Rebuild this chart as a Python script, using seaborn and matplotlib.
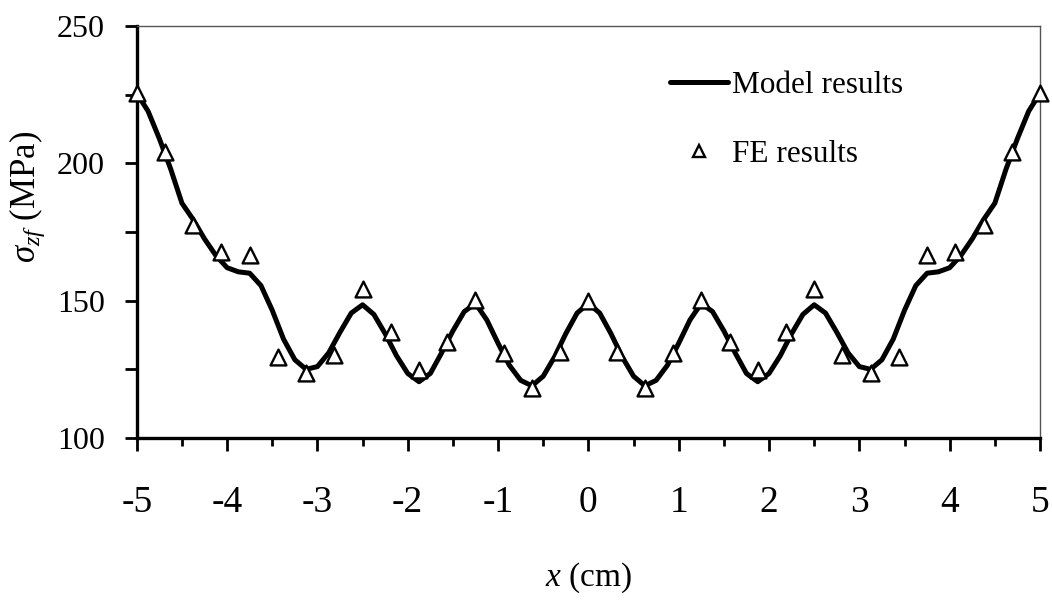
import numpy as np
import pandas as pd
import matplotlib
matplotlib.use("Agg")
import matplotlib.pyplot as plt
from matplotlib.lines import Line2D
from matplotlib.ticker import MultipleLocator
import seaborn as sns

# ---- data ----
# Model results: left half from x=-5 to 0 at 0.125 cm steps (curve is symmetric)
model_x_half = [-5.0, -4.875, -4.75, -4.625, -4.5, -4.375, -4.25, -4.125, -4.0,
                -3.875, -3.75, -3.625, -3.5, -3.375, -3.25, -3.125, -3.0, -2.875,
                -2.75, -2.625, -2.5, -2.375, -2.25, -2.125, -2.0, -1.875, -1.75,
                -1.625, -1.5, -1.375, -1.25, -1.125, -1.0, -0.875, -0.75, -0.625,
                -0.5, -0.375, -0.25, -0.125, 0.0]
model_y_half = [225.5, 219.0, 209.0, 198.0, 185.5, 179.5, 172.5, 166.5, 162.0,
                160.5, 160.0, 155.5, 146.5, 136.0, 128.5, 125.0, 126.0, 131.0,
                138.5, 145.5, 148.5, 145.0, 138.0, 130.0, 123.5, 120.5, 123.5,
                131.0, 139.0, 146.0, 149.0, 143.0, 134.5, 126.5, 121.0, 119.0,
                122.5, 129.5, 138.0, 145.5, 149.0]

# FE results: left half from x=-5 to 0 at 0.3125 cm steps (symmetric)
fe_x_half = [-5.0, -4.6875, -4.375, -4.0625, -3.75, -3.4375, -3.125, -2.8125,
             -2.5, -2.1875, -1.875, -1.5625, -1.25, -0.9375, -0.625, -0.3125, 0.0]
fe_y_half = [225.5, 204.0, 177.6, 167.8, 166.6, 129.6, 123.6, 130.2,
             154.1, 138.7, 124.8, 135.1, 150.3, 130.8, 118.1, 131.4, 150.0]

x_ticks = [-5, -4, -3, -2, -1, 0, 1, 2, 3, 4, 5]
y_ticks = [100, 150, 200, 250]

model_x = model_x_half + [-v for v in model_x_half[-2::-1]]
model_y = model_y_half + model_y_half[-2::-1]
fe_x = fe_x_half + [-v for v in fe_x_half[-2::-1]]
fe_y = fe_y_half + fe_y_half[-2::-1]

model_df = pd.DataFrame({"x": model_x, "y": model_y})
fe_df = pd.DataFrame({"x": fe_x, "y": fe_y})

# ---- style ----
sns.set_theme(style="ticks")
plt.rcParams["font.family"] = ["Liberation Serif", "DejaVu Serif"]
plt.rcParams["mathtext.fontset"] = "custom"
plt.rcParams["mathtext.rm"] = "Liberation Serif"
plt.rcParams["mathtext.it"] = "Liberation Serif:italic"
for key in ["text.color", "axes.labelcolor", "xtick.color", "ytick.color",
            "xtick.labelcolor", "ytick.labelcolor"]:
    plt.rcParams[key] = "black"

fig = plt.figure(figsize=(10.52, 6.07), dpi=100)
ax = fig.add_axes([0.130, 0.2784, 0.8586, 0.6788])

sns.lineplot(data=model_df, x="x", y="y", ax=ax, color="black", linewidth=3.6,
             sort=False, legend=False)
sns.scatterplot(data=fe_df, x="x", y="y", ax=ax, marker="^", s=130,
                facecolor="white", edgecolor="black", linewidth=1.7,
                legend=False, zorder=3, clip_on=False)

ax.set_xlim(-5, 5)
ax.set_ylim(100, 250)
ax.set_xticks(x_ticks)
ax.set_xticklabels([str(t) for t in x_ticks])
ax.set_yticks(y_ticks)
ax.xaxis.set_minor_locator(MultipleLocator(0.5))
ax.yaxis.set_minor_locator(MultipleLocator(25))

ax.tick_params(axis="x", which="major", direction="out", length=9, width=2,
               labelsize=27, pad=25, color="black")
ax.tick_params(axis="x", which="minor", direction="out", length=6, width=2,
               color="black")
ax.tick_params(axis="y", which="both", direction="out", length=9, width=2,
               labelsize=23, pad=14, color="black")

for side in ["left", "bottom"]:
    ax.spines[side].set_linewidth(2.4)
    ax.spines[side].set_color("black")
for side in ["top", "right"]:
    ax.spines[side].set_visible(True)
    ax.spines[side].set_linewidth(1.0)
    ax.spines[side].set_color("#555555")

ax.set_xlabel(r"$x$ (cm)", fontsize=24)
ax.xaxis.set_label_coords(0.5, -0.34)
ax.xaxis.label.set_verticalalignment("center")
ax.set_ylabel(r"$\sigma_{zf}$ (MPa)", fontsize=25)
ax.yaxis.set_label_coords(-0.121, 0.585)
ax.yaxis.label.set_verticalalignment("center")

handles = [
    Line2D([0], [0], color="black", linewidth=3.6),
    Line2D([0], [0], linestyle="none", marker="^", markersize=9,
           markerfacecolor="white", markeredgecolor="black", markeredgewidth=1.7),
]
ax.legend(handles, ["Model results", "FE results"], loc="upper left",
          bbox_to_anchor=(0.559, 0.96), frameon=False, fontsize=22.5,
          handlelength=1.85, handletextpad=0.15, labelspacing=1.3)

fig.savefig("out.png", dpi=100)
